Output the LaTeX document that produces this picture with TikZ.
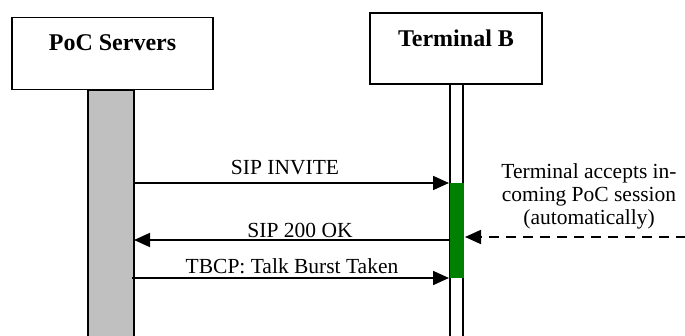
\documentclass[tikz,border=0pt]{standalone}
\usepackage{fontspec}
\setmainfont{Liberation Serif}
\usetikzlibrary{arrows.meta}
\definecolor{bargray}{RGB}{192,192,192}
\definecolor{actgreen}{RGB}{0,128,0}
\begin{document}
\begin{tikzpicture}[x=1pt,y=-1pt,
  entity/.style={draw=black,line width=1.8pt,fill=white,inner sep=0pt},
  title/.style={font=\fontsize{24}{28}\selectfont\bfseries,inner sep=0pt},
  lbl/.style={font=\fontsize{21.5}{23}\selectfont,inner sep=0pt},
  msg/.style={line width=1.8pt,-{Triangle[length=16pt,width=14pt]}},
]
\useasboundingbox (0,0) rectangle (685,336);
% lifelines
\path[draw=black,fill=bargray,line width=1.2pt] (88,90) rectangle (134,345);
\path[draw=black,fill=white,line width=1.2pt] (450,84) rectangle (463,345);
% boxes
\node[entity,minimum width=201pt,minimum height=72pt] (poc) at (112.5,53.5) {};
\node[title] (poct) at (112.5,43) {PoC Servers};
\node[entity,minimum width=172pt,minimum height=71pt] (tb) at (456,48.5) {};
\node[title] (tbt) at (456,38) {Terminal B};
% activation
\path[fill=actgreen] (450,183) rectangle (463.5,278);
\coordinate (g1) at (449,183);
\coordinate (g2) at (450,240);
\coordinate (g3) at (449,278);
\coordinate (s1) at (134,183);
\coordinate (s2) at (134,240);
\coordinate (s3) at (132,278);
\coordinate (ext) at (686,237);
\coordinate (gr) at (465,237);
% messages
\draw[msg] (s1) -- (g1);
\node[lbl] (m1) at (285,168) {SIP INVITE};
\draw[msg] (g2) -- (s2);
\node[lbl] (m2) at (300,230) {SIP 200 OK};
\draw[msg] (s3) -- (g3);
\node[lbl] (m3) at (292,266) {TBCP: Talk Burst Taken};
% external trigger
\draw[msg,dash pattern=on 10pt off 7pt] (ext) -- (gr);
\node[lbl,align=center] (note) at (589,196) {Terminal accepts in-\\coming PoC session\\(automatically)};
\end{tikzpicture}
\end{document}
